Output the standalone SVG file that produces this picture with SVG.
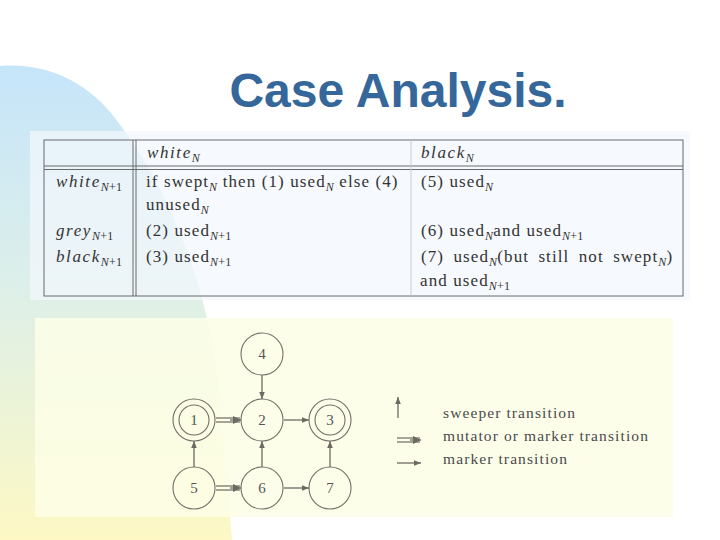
<svg xmlns="http://www.w3.org/2000/svg" width="720" height="540" viewBox="0 0 720 540">
<defs>
<linearGradient id="bgGrad" x1="0" y1="0" x2="0" y2="1">
<stop offset="0" stop-color="#c6e5fa"/>
<stop offset="0.45" stop-color="#dcefea"/>
<stop offset="1" stop-color="#fdf8c4"/>
</linearGradient>
<marker id="ah" viewBox="0 0 10 10" refX="10" refY="5" markerWidth="7" markerHeight="7" markerUnits="userSpaceOnUse" orient="auto">
<path d="M0,1 L10,5 L0,9 Z" fill="#6b6b62"/>
</marker>
<marker id="ah2" viewBox="0 0 10 10" refX="10" refY="5" markerWidth="8" markerHeight="8" markerUnits="userSpaceOnUse" orient="auto">
<path d="M0,0 L10,5 L0,10 Z" fill="#6b6b62"/>
</marker>
</defs>
<style>
.title{font-family:"Liberation Sans",Arial,sans-serif;font-weight:bold;font-size:48px;fill:#35679a}
.t{font-family:"Liberation Serif","Times New Roman",serif;font-size:17px;fill:#333;letter-spacing:1.1px}
.ti{font-family:"Liberation Serif","Times New Roman",serif;font-style:italic;font-size:17px;fill:#333;letter-spacing:1.6px}
.sub{font-size:12px;font-style:normal;letter-spacing:0.2px}
.si{font-style:italic}
.wide{word-spacing:4px}
.grid{stroke:#6a6a6a;stroke-width:1;fill:none}
.faint{stroke:#c8ccd0;stroke-width:1;fill:none}
.node{fill:none;stroke:#707068;stroke-width:1.1}
.num{font-family:"Liberation Serif","Times New Roman",serif;font-size:15px;fill:#555;text-anchor:middle}
.edge{stroke:#6b6b62;stroke-width:1.3;fill:none}
.dbl{stroke:#6b6b62;stroke-width:1.2;fill:none}
.leg{font-family:"Liberation Serif","Times New Roman",serif;font-size:15.5px;fill:#4a4a4a;letter-spacing:1.1px}
</style>
<rect x="0" y="0" width="720" height="540" fill="#ffffff"/>
<path d="M0,66 C50,62 90,85 115,118 C170,190 205,280 218,380 L232,540 L0,540 Z" fill="url(#bgGrad)"/>
<text class="title" x="398" y="107" text-anchor="middle">Case Analysis.</text>

<g id="table">
<rect x="30" y="131" width="660" height="169" fill="#f2f7fc" fill-opacity="0.72"/>
<rect class="grid" x="44" y="140" width="639" height="156"/>
<line class="grid" x1="44" y1="166" x2="683" y2="166"/>
<line class="grid" x1="44" y1="169.5" x2="683" y2="169.5"/>
<line class="grid" x1="133" y1="140" x2="133" y2="296"/>
<line class="grid" x1="136" y1="140" x2="136" y2="296"/>
<line class="faint" x1="411" y1="140" x2="411" y2="296"/>
<text class="ti" x="147" y="158">white<tspan class="sub si" dy="4">N</tspan></text>
<text class="ti" x="421" y="158">black<tspan class="sub si" dy="4">N</tspan></text>
<text class="ti" x="56" y="187">white<tspan class="sub" dy="4"><tspan class="si">N</tspan>+1</tspan></text>
<text class="t" x="146" y="187">if swept<tspan class="sub si" dy="4">N</tspan><tspan dy="-4"> then (1) used</tspan><tspan class="sub si" dy="4">N</tspan><tspan dy="-4"> else (4)</tspan></text>
<text class="t" x="421" y="187">(5) used<tspan class="sub si" dy="4">N</tspan></text>
<text class="t" x="146" y="210">unused<tspan class="sub si" dy="4">N</tspan></text>
<text class="ti" x="56" y="236">grey<tspan class="sub" dy="4"><tspan class="si">N</tspan>+1</tspan></text>
<text class="t" x="146" y="236">(2) used<tspan class="sub" dy="4"><tspan class="si">N</tspan>+1</tspan></text>
<text class="t" x="421" y="236">(6) used<tspan class="sub si" dy="4">N</tspan><tspan dy="-4">and used</tspan><tspan class="sub" dy="4"><tspan class="si">N</tspan>+1</tspan></text>
<text class="ti" x="56" y="262">black<tspan class="sub" dy="4"><tspan class="si">N</tspan>+1</tspan></text>
<text class="t" x="146" y="262">(3) used<tspan class="sub" dy="4"><tspan class="si">N</tspan>+1</tspan></text>
<text class="t wide" x="421" y="262">(7) used<tspan class="sub si" dy="4">N</tspan><tspan dy="-4">(but still not swept</tspan><tspan class="sub si" dy="4">N</tspan><tspan dy="-4">)</tspan></text>
<text class="t" x="420" y="286">and used<tspan class="sub" dy="4"><tspan class="si">N</tspan>+1</tspan></text>
</g>

<rect x="35" y="318" width="638" height="199" fill="#fdfee6" fill-opacity="0.85"/>

<g id="n4"><circle class="node" cx="262" cy="354" r="21"/><text class="num" x="262" y="359">4</text></g>
<g id="n1"><circle class="node" cx="194" cy="420" r="21"/><circle class="node" cx="194" cy="420" r="15"/><text class="num" x="194" y="425">1</text></g>
<g id="n2"><circle class="node" cx="262" cy="420" r="21"/><text class="num" x="262" y="425">2</text></g>
<g id="n3"><circle class="node" cx="330" cy="420" r="21"/><circle class="node" cx="330" cy="420" r="15"/><text class="num" x="330" y="425">3</text></g>
<g id="n5"><circle class="node" cx="194" cy="488" r="21"/><text class="num" x="194" y="493">5</text></g>
<g id="n6"><circle class="node" cx="262" cy="488" r="21"/><text class="num" x="262" y="493">6</text></g>
<g id="n7"><circle class="node" cx="330" cy="488" r="21"/><text class="num" x="330" y="493">7</text></g>

<g id="connectors">
<line class="edge" x1="262" y1="375" x2="262" y2="399" marker-end="url(#ah)"/>
<line class="dbl" x1="216" y1="418" x2="240" y2="418"/>
<line class="dbl" x1="216" y1="422" x2="240" y2="422"/>
<line class="edge" x1="230" y1="420" x2="241" y2="420" marker-end="url(#ah2)"/>
<line class="edge" x1="284" y1="420" x2="309" y2="420" marker-end="url(#ah)"/>
<line class="edge" x1="194" y1="467" x2="194" y2="441" marker-end="url(#ah)"/>
<line class="dbl" x1="216" y1="486" x2="240" y2="486"/>
<line class="dbl" x1="216" y1="490" x2="240" y2="490"/>
<line class="edge" x1="230" y1="488" x2="241" y2="488" marker-end="url(#ah2)"/>
<line class="edge" x1="262" y1="467" x2="262" y2="441" marker-end="url(#ah)"/>
<line class="edge" x1="284" y1="488" x2="309" y2="488" marker-end="url(#ah)"/>
<line class="edge" x1="330" y1="467" x2="330" y2="441" marker-end="url(#ah)"/>
</g>

<g id="legend">
<line class="edge" x1="398" y1="418" x2="398" y2="397" marker-end="url(#ah)"/>
<line class="dbl" x1="397" y1="438" x2="420" y2="438"/>
<line class="dbl" x1="397" y1="442" x2="420" y2="442"/>
<line class="edge" x1="410" y1="440" x2="421" y2="440" marker-end="url(#ah2)"/>
<line class="edge" x1="397" y1="463" x2="421" y2="463" marker-end="url(#ah)"/>
<text class="leg" x="443" y="418">sweeper transition</text>
<text class="leg" x="443" y="441">mutator or marker transition</text>
<text class="leg" x="443" y="464">marker transition</text>
</g>
</svg>
